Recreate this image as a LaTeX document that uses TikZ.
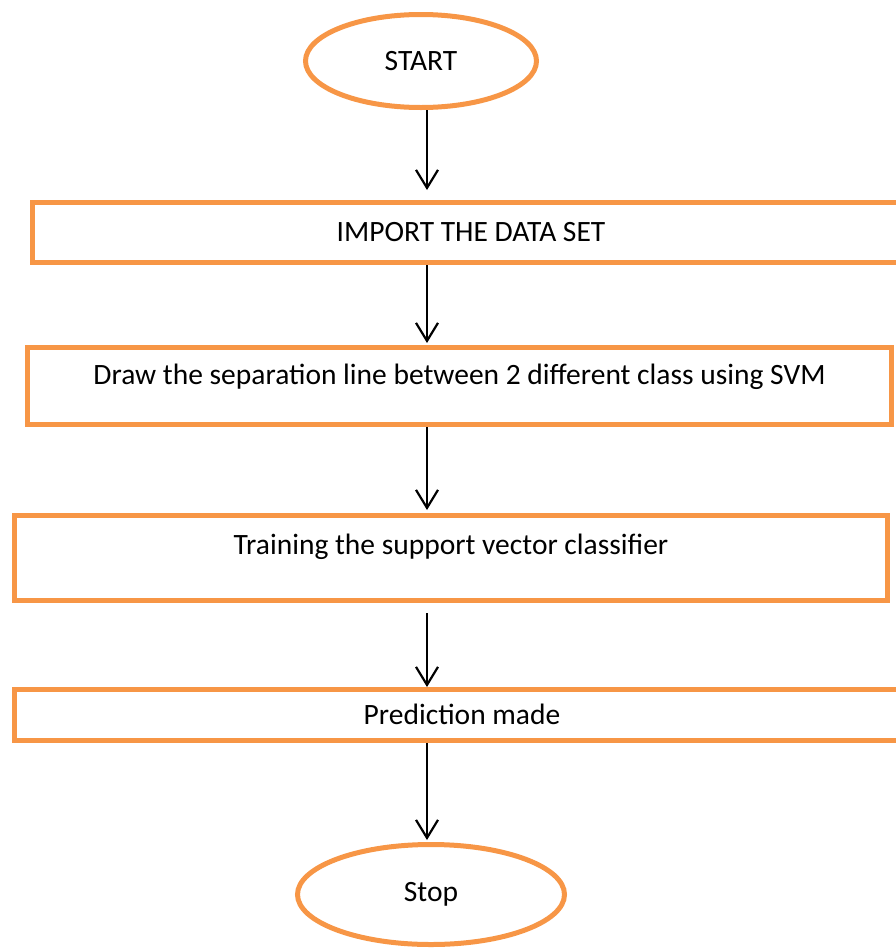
\documentclass[tikz,border=0pt]{standalone}
\usepackage{fontspec}
\setmainfont{Carlito}
\usetikzlibrary{arrows.meta, shapes.geometric, positioning}
\definecolor{flowOrange}{RGB}{247,150,70}

\begin{document}
\begin{tikzpicture}[
  x=1pt, y=-1pt,
  term/.style={draw=flowOrange, ellipse, line width=5pt, align=center,
               font=\fontsize{29.5}{35}\selectfont},
  stepbox/.style={draw=flowOrange, rectangle, line width=5pt, align=center,
                  font=\fontsize{29.5}{35}\selectfont},
  arr/.style={-{Straight Barb[length=18pt,width=22pt]}, line width=2.2pt}
]
  \clip (0,0) rectangle (896,948);
  \coordinate (spine) at (427,0);

  \node[term, minimum width=231pt, minimum height=93pt] (start) at (421,61) {START};
  \node[stepbox, minimum width=877pt, minimum height=60pt,
        below=90pt of start, xshift=50pt] (imp) {IMPORT THE DATA SET};
  \node[stepbox, minimum width=864pt, minimum height=77pt, text height=21pt, text depth=24pt,
        below=80pt of imp, xshift=-11.5pt] (sep)
        {Draw the separation line between 2 different class using SVM};
  \node[stepbox, minimum width=873pt, minimum height=85pt, text height=21pt, text depth=28pt,
        below=86pt of sep, xshift=-8.5pt] (train) {Training the support vector classifier};
  \node[stepbox, minimum width=895pt, minimum height=51pt, text height=25pt, text depth=6pt,
        below=84pt of train, xshift=11pt] (pred) {Prediction made};
  \node[term, minimum width=267pt, minimum height=100pt,
        below=99pt of pred, xshift=-31pt] (stop) {Stop};

  \draw[arr, shorten >=10pt] (start.south -| spine) -- (imp.north -| spine);
  \draw[arr, shorten >=2pt]  (imp.south -| spine)   -- (sep.north -| spine);
  \draw[arr, shorten >=3pt]  (sep.south -| spine)   -- (train.north -| spine);
  \draw[arr, shorten <=10pt] (train.south -| spine) -- (pred.north -| spine);
  \draw[arr, shorten >=2pt]  (pred.south -| spine)  -- (stop.north -| spine);
\end{tikzpicture}
\end{document}
